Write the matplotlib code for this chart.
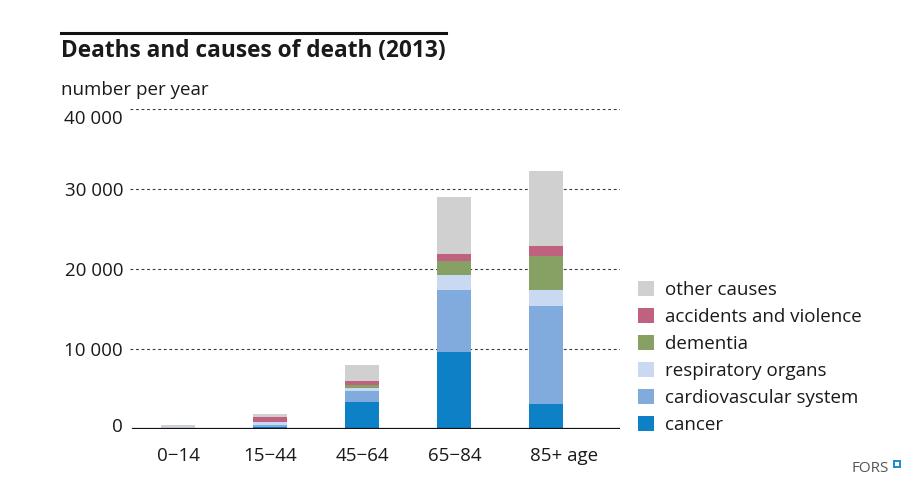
import matplotlib
matplotlib.use("Agg")
import matplotlib.pyplot as plt
import matplotlib.transforms as mtransforms
import numpy as np

plt.rcParams["font.family"] = ["Open Sans", "DejaVu Sans"]

AGE_GROUPS = ["0−14", "15−44", "45−64", "65−84", "85+ age"]
CAUSES = ["cancer", "cardiovascular system", "respiratory organs",
          "dementia", "accidents and violence", "other causes"]

cancer = [40, 290, 3450, 9620, 3200]
cardiovascular = [40, 250, 1340, 7750, 12250]
respiratory = [250, 370, 420, 1910, 1960]
dementia = [0, 20, 290, 1750, 4250]
accidents = [10, 610, 540, 910, 1250]
other = [240, 330, 1960, 7060, 9340]

Y_TICKS = [0, 10000, 20000, 30000, 40000]
Y_TICK_LABELS = ["0", "10 000", "20 000", "30 000", "40 000"]

COLORS = ["#0d80c6", "#80abdc", "#c9d9f1", "#87a063", "#c0617f", "#d0d0d0"]
TEXT_COLOR = "#1a1a1a"

fig = plt.figure(figsize=(9.2, 4.93), dpi=100)
ax = fig.add_axes([130 / 920, 1 - 429.3 / 493, 490 / 920, 320.3 / 493])

x = np.arange(len(AGE_GROUPS))
series = [cancer, cardiovascular, respiratory, dementia, accidents, other]
bottom = np.zeros(len(AGE_GROUPS))
handles = []
for values, color, name in zip(series, COLORS, CAUSES):
    bars = ax.bar(x, values, bottom=bottom, width=0.37, color=color,
                  label=name, zorder=3)
    handles.append(bars)
    bottom += np.array(values)

ax.set_xlim(-0.525, 4.80)
ax.set_ylim(0, 40000)

for y in Y_TICKS[1:]:
    ax.axhline(y, color="#3a3a3a", linestyle=(0, (2.5, 2.5)), linewidth=0.8, zorder=1)
ax.axhline(0, color="#111111", linewidth=1.6, zorder=4, xmin=0.006)

for side in ["top", "right", "left", "bottom"]:
    ax.spines[side].set_visible(False)

ax.set_yticks(Y_TICKS)
ax.set_yticklabels(Y_TICK_LABELS, fontsize=13.5, color=TEXT_COLOR)
ax.set_xticks(x)
ax.set_xticklabels(AGE_GROUPS, fontsize=13.5, color=TEXT_COLOR)
ax.tick_params(axis="both", length=0)
ax.tick_params(axis="y", pad=5)
ax.tick_params(axis="x", pad=13)

# nudge a few tick labels like in the original layout
ylabels = ax.get_yticklabels()
ylabels[0].set_transform(ylabels[0].get_transform()
                         + mtransforms.ScaledTranslation(0, 4 / 100, fig.dpi_scale_trans))
ylabels[-1].set_transform(ylabels[-1].get_transform()
                          + mtransforms.ScaledTranslation(0, -8 / 100, fig.dpi_scale_trans))
last = ax.get_xticklabels()[-1]
last.set_horizontalalignment("left")
last.set_transform(last.get_transform()
                   + mtransforms.ScaledTranslation(-16 / 100, 0, fig.dpi_scale_trans))

# title block
fig.add_artist(plt.Line2D([61 / 920, 446 / 920], [1 - 33 / 493, 1 - 33 / 493],
                          color="#111111", linewidth=2.2))
fig.text(61 / 920, 1 - 51 / 493, "Deaths and causes of death (2013)",
         fontsize=16.3, fontweight="bold", color=TEXT_COLOR, va="center", ha="left")
fig.text(61 / 920, 1 - 90 / 493, "number per year",
         fontsize=13.5, color=TEXT_COLOR, va="center", ha="left")

leg = fig.legend(handles[::-1], CAUSES[::-1], loc="upper left",
                 bbox_to_anchor=(630 / 920, 1 - 273 / 493), frameon=False,
                 fontsize=13.5, handlelength=0.9, handleheight=0.9,
                 handletextpad=0.55, labelspacing=0.47, borderaxespad=0)
for t in leg.get_texts():
    t.set_color(TEXT_COLOR)

# FORS mark
fig.text(889 / 920, 1 - 468 / 493, "FORS", fontsize=11, color="#555555",
         ha="right", va="center")
fig.add_artist(plt.Rectangle((894 / 920, 1 - 467 / 493), 6 / 920, 6 / 493,
                             facecolor="white", edgecolor="#1a8ad4", linewidth=1.4))

fig.savefig("out.png", dpi=100)
